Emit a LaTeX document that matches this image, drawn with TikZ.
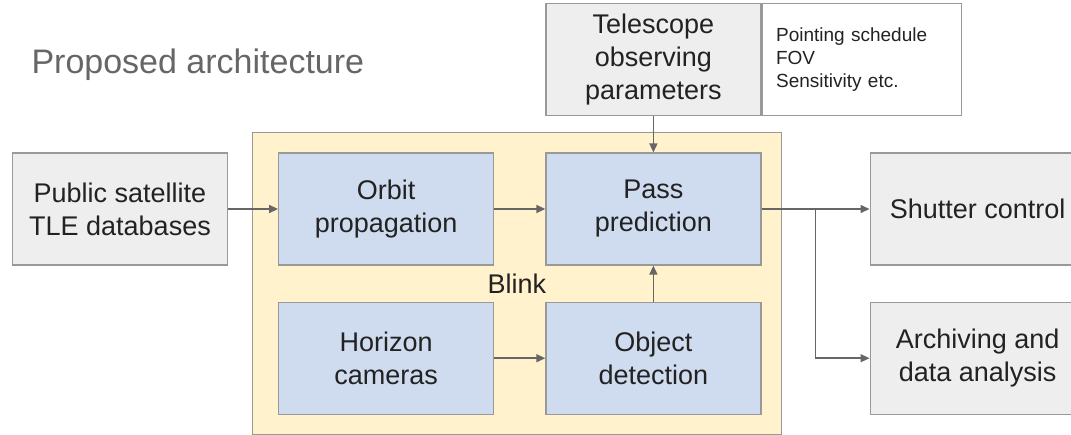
\documentclass[tikz,border=0pt]{standalone}
\usepackage{fontspec}
\setmainfont{Liberation Sans}
\usepackage{xcolor}
\usetikzlibrary{positioning, fit, backgrounds, calc, arrows.meta}

\definecolor{boxgray}{HTML}{EEEEEE}
\definecolor{boxblue}{HTML}{CFDCEF}
\definecolor{blinkyellow}{HTML}{FFF2CC}
\definecolor{linegray}{HTML}{999999}
\definecolor{arrowgray}{HTML}{666666}
\definecolor{titlegray}{HTML}{666666}
\definecolor{textdark}{HTML}{222222}

\begin{document}
\begin{tikzpicture}[
    node distance=36pt and 50pt,
    box/.style={rectangle, draw=linegray, line width=1.2pt, fill=boxgray, minimum width=215pt, minimum height=112pt, inner sep=0pt, align=center, text=textdark, font=\fontsize{27}{33}\selectfont},
    arrow/.style={-{Triangle[length=9pt, width=8pt]}, line width=1.5pt, draw=arrowgray}
]
\useasboundingbox (0,0) rectangle (1071pt,-434pt);

% Title
\node[anchor=base west, text=titlegray, font=\fontsize{34}{40}\selectfont] (title) at (28pt,-73pt) {Proposed architecture};

% Define nodes
\node[box] (tle) at (120pt,-209pt) {Public satellite\\TLE databases};
\node[box, right=of tle, fill=boxblue] (orbit) {Orbit\\propagation};
\node[box, right=51pt of orbit, fill=boxblue] (pass) {Pass\\prediction};
\node[box, below=of orbit, fill=boxblue] (horizon) {Horizon\\cameras};
\node[box, below=of pass, fill=boxblue] (detection) {Object\\detection};

% Telescope inputs
\node[box, above=of pass] (telescope) {Telescope\\observing\\parameters};
\node[box, right=0pt of telescope, fill=white, minimum width=199pt, text width=171pt, inner xsep=14pt, align=left, font=\fontsize{19}{23}\selectfont] (params) {Pointing schedule\\FOV\\Sensitivity etc.};

% Outputs
\node[box, right=108pt of pass] (shutter) {Shutter control};
\node[box, below=of shutter] (archive) {Archiving and\\data analysis};
\coordinate (split) at ($(pass.east)!0.5!(shutter.west)$);

% Blink container
\begin{scope}[on background layer]
\node[fit={($(orbit.north west)+(-6pt,0)$) (detection.south east)}, inner sep=20pt, draw=linegray, line width=1.2pt, fill=blinkyellow] (blink) {};
\end{scope}
\node[text=textdark, font=\fontsize{27}{33}\selectfont, xshift=-3pt] (blinklabel) at ($(orbit.south east)!0.5!(detection.north west)$) {Blink};

% Draw arrows
\draw[arrow] (tle) -- (orbit);
\draw[arrow] (orbit) -- (pass);
\draw[arrow] (horizon) -- (detection);
\draw[arrow] (detection) -- (pass);
\draw[arrow] (telescope) -- (pass);
\draw[arrow] (pass) -- (shutter);
\draw[arrow] (split) |- (archive.west);

\end{tikzpicture}
\end{document}
